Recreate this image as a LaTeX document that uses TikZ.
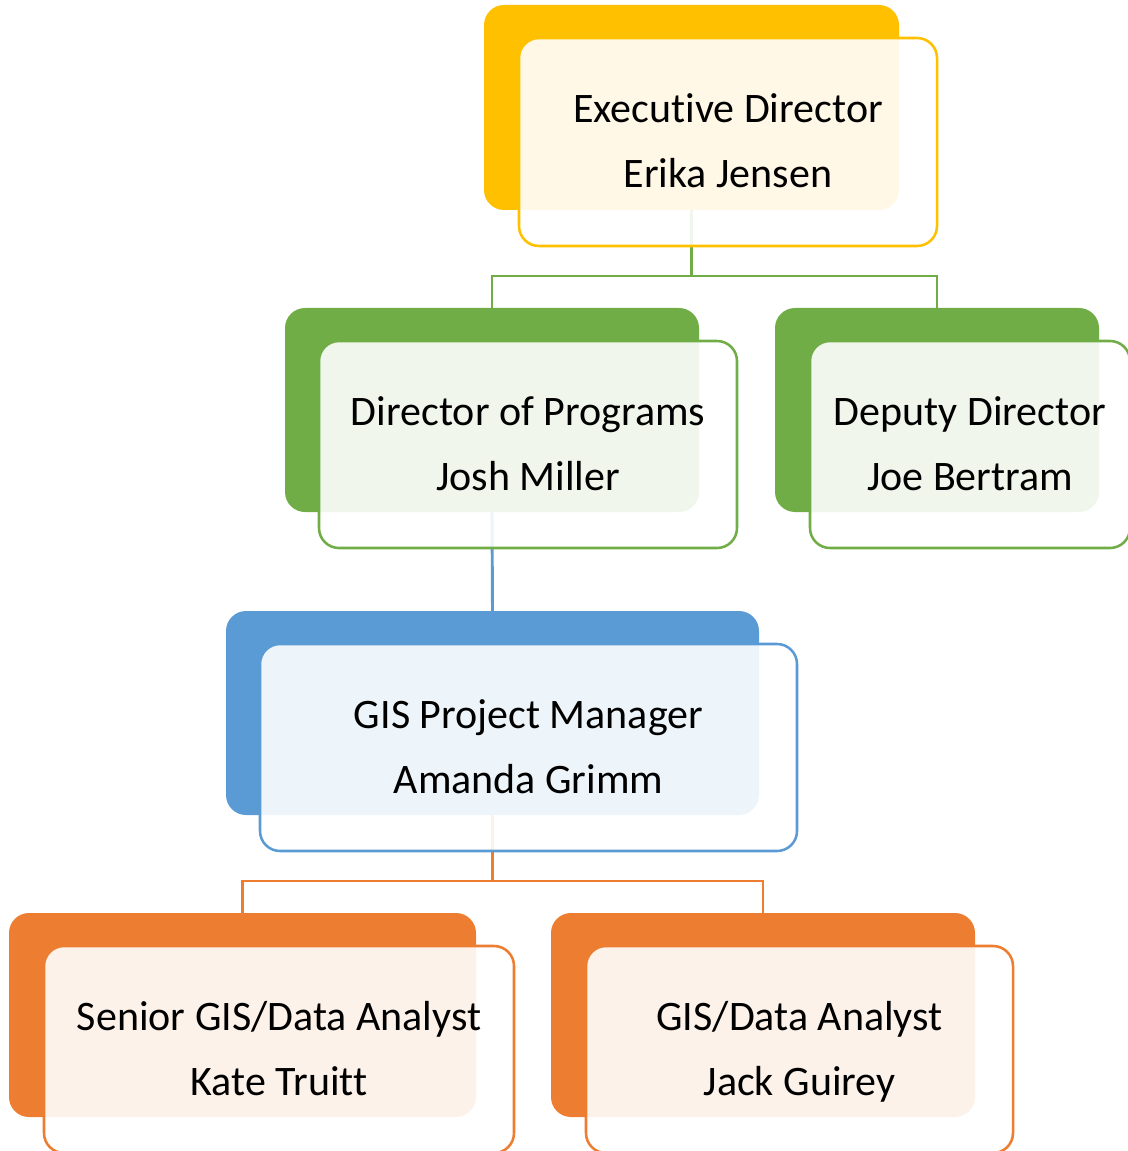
\documentclass[tikz,border=0pt]{standalone}
\usepackage{fontspec}
\setmainfont{Carlito}[Ligatures=NoCommon]
\usepackage{tikz}
\usetikzlibrary{positioning,backgrounds}

\definecolor{ydark}{HTML}{FFC000}
\definecolor{gdark}{HTML}{70AD47}
\definecolor{bdark}{HTML}{5B9BD5}
\definecolor{odark}{HTML}{ED7D31}

\begin{document}
\begin{tikzpicture}[
        x=0.75pt, y=-0.75pt,
        every node/.style={inner sep=0pt, outer sep=0pt, align=center},
        backbox/.style={fill=#1, rounded corners=15pt, minimum height=153pt},
        frontbox/.style={draw=#1, line width=1.9pt, fill=white, fill opacity=0.9, text opacity=1,
            rounded corners=15pt, minimum height=155.25pt,
            font=\fontsize{31.5}{48.75}\selectfont},
        link/.style={draw=#1, line width=2.2pt}
    ]
    \useasboundingbox (0,0) rectangle (1127,1151);

    % Nodes
    \node (execback)[backbox=ydark, minimum width=311.25pt, minimum height=153.75pt] at (691.5,107.5) {};
    \node (exec)[frontbox=ydark, minimum width=313.5pt, minimum height=156pt] at (728,142)
        {\strut Executive Director \\ Erika Jensen\strut};

    \node (progback)[backbox=gdark, minimum width=310.5pt] at (492,410) {};
    \node (prog)[frontbox=gdark, minimum width=313.5pt] at (528,444.5)
        {\strut Director of Programs \\ Josh Miller\strut};

    \node (deputyback)[backbox=gdark, minimum width=243pt] at (937,410) {};
    \node (deputy)[frontbox=gdark, minimum width=240pt] at (970,444.5)
        {\strut Deputy Director \\ Joe Bertram\strut};

    \node (pmback)[backbox=bdark, minimum width=399.75pt] at (492.5,713) {};
    \node (pm)[frontbox=bdark, minimum width=402.75pt] at (528.5,747.5)
        {\strut GIS Project Manager \\ Amanda Grimm\strut};

    \node (seniorback)[backbox=odark, minimum width=350.25pt] at (242.5,1015) {};
    \node (senior)[frontbox=odark, minimum width=352.5pt] at (279,1049.5)
        {\strut Senior GIS/Data Analyst \\ Kate Truitt\strut};

    \node (analystback)[backbox=odark, minimum width=318pt] at (763,1015) {};
    \node (analyst)[frontbox=odark, minimum width=320.25pt] at (799.5,1049.5)
        {\strut GIS/Data Analyst \\ Jack Guirey\strut};

    % Edges
    \begin{scope}[on background layer]
    \draw[link=gdark] (execback.south) -- ++(0,66) -| (progback.north);
    \draw[link=gdark] (execback.south) -- ++(0,66) -| (deputyback.north);
    \draw[link=bdark] (progback.south) -- (pmback.north);
    \draw[link=odark] (pmback.south) -- ++(0,66) -| (seniorback.north);
    \draw[link=odark] (pmback.south) -- ++(0,66) -| (analystback.north);
    \end{scope}

\end{tikzpicture}
\end{document}
